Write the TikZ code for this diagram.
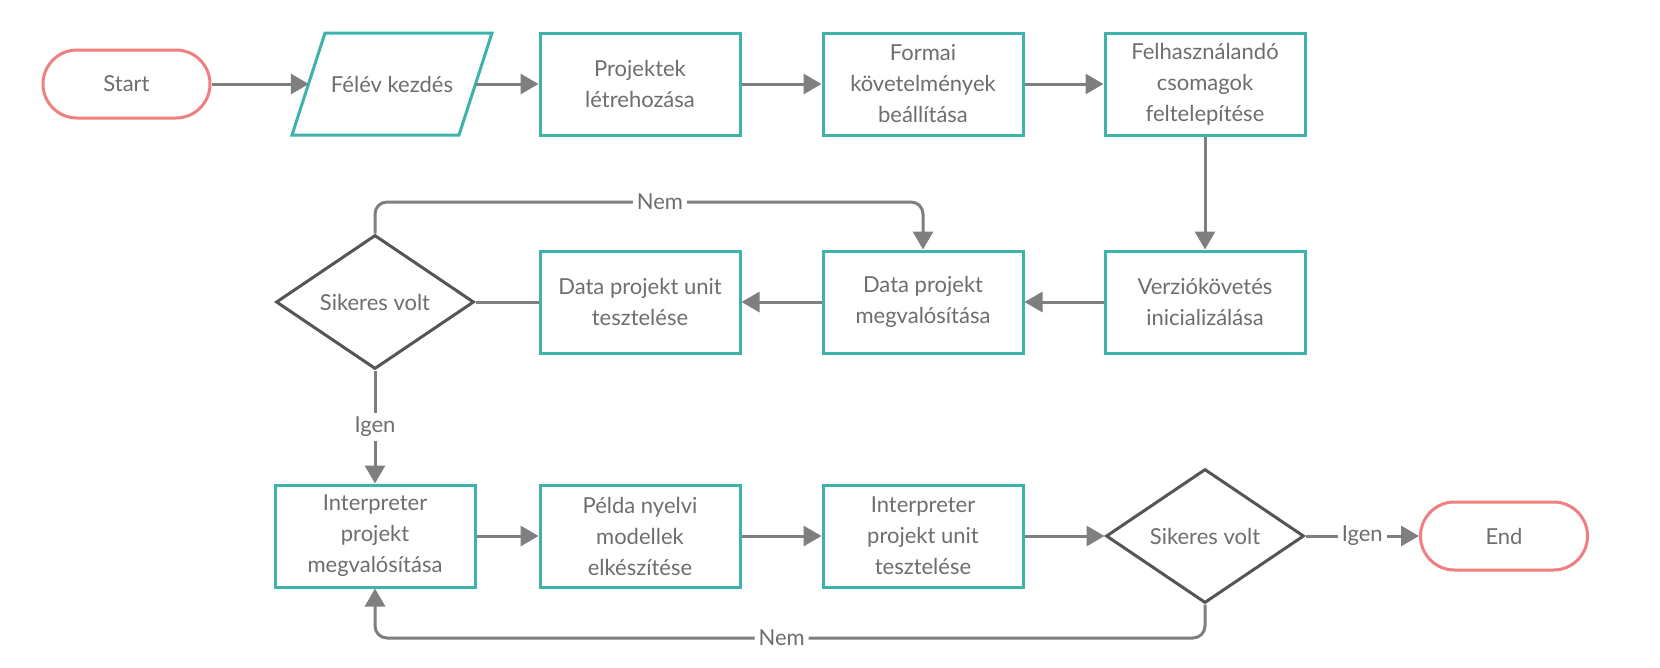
\documentclass[tikz,border=0pt]{standalone}
\usepackage{fontspec}
\setmainfont{Lato}
\usetikzlibrary{shapes.geometric,arrows.meta}
\definecolor{tealb}{HTML}{3DB3AC}
\definecolor{redb}{HTML}{F07F7F}
\definecolor{arrg}{HTML}{7F7F7F}
\definecolor{darkb}{HTML}{555555}
\definecolor{txtc}{HTML}{6E6E6E}
\begin{document}
\begin{tikzpicture}[x=1pt,y=-1pt,
  every node/.style={font=\fontsize{22}{31}\selectfont, text=txtc},
  term/.style={draw=redb, line width=3pt, rounded corners=34pt, minimum width=167pt, minimum height=68pt, inner sep=0pt},
  proc/.style={draw=tealb, line width=3pt, minimum width=200pt, minimum height=102pt, align=center, inner sep=2pt},
  iobox/.style={minimum width=166pt, minimum height=102pt, inner sep=0pt},
  dec/.style={draw=darkb, line width=3pt, diamond, minimum width=198pt, minimum height=134pt, inner sep=0pt},
  conn/.style={draw=arrg, line width=3pt},
  arr/.style={conn, -{Triangle[length=18pt,width=20pt]}},
  lbl/.style={fill=white, inner sep=4pt}
]
\useasboundingbox (0,0) rectangle (1660,667);
\fill[white] (0,0) rectangle (1660,667);

% row 1
\node[term] (start) at (126.5,84) {Start};
\node[iobox] (felev) at (392,84) {Félév kezdés};
\draw[tealb, line width=3pt, line join=miter] (292,135) -- (325,33) -- (492,33) -- (459,135) -- cycle;
\node[proc] (proj) at (640,84) {Projektek\\létrehozása};
\node[proc] (formai) at (923,84) {Formai\\követelmények\\beállítása};
\node[proc] (csom) at (1205,84) {Felhasználandó\\csomagok\\feltelepítése};

% row 2
\node[dec] (dec1) at (375,302) {Sikeres volt};
\node[proc] (dunit) at (640,302) {Data projekt unit\\tesztelése};
\node[proc] (dproj) at (923,302) {Data projekt\\megvalósítása};
\node[proc] (verz) at (1205,302) {Verziókövetés\\inicializálása};

% row 3
\node[proc] (iproj) at (375,536) {Interpreter\\projekt\\megvalósítása};
\node[proc] (pelda) at (640,536) {Példa nyelvi\\modellek\\elkészítése};
\node[proc] (iunit) at (923,536) {Interpreter\\projekt unit\\tesztelése};
\node[dec] (dec2) at (1205,536) {Sikeres volt};
\node[term] (end) at (1504,536) {End};

\coordinate (topl) at (375,202);
\coordinate (topr) at (923,202);
\coordinate (botr) at (1205,638);
\coordinate (botl) at (375,638);

% connectors
\draw[arr] (start) -- (felev);
\draw[arr] (felev) -- (proj);
\draw[arr] (proj) -- (formai);
\draw[arr] (formai) -- (csom);
\draw[arr] (csom) -- (verz);
\draw[arr] (verz) -- (dproj);
\draw[arr] (dproj) -- (dunit);
\draw[conn] (dunit) -- (dec1);
\draw[arr, rounded corners=12pt] (dec1.north) -- (topl) -- node[lbl, pos=0.52] {Nem} (topr) -- (dproj.north);
\draw[arr] (dec1.south) -- node[lbl] {Igen} (iproj.north);
\draw[arr] (iproj) -- (pelda);
\draw[arr] (pelda) -- (iunit);
\draw[arr] (iunit) -- (dec2);
\draw[arr] (dec2) -- node[lbl] {Igen} (end);
\draw[arr, rounded corners=12pt] (dec2.south) -- (botr) -- node[lbl, pos=0.51] {Nem} (botl) -- (iproj.south);
\end{tikzpicture}
\end{document}
